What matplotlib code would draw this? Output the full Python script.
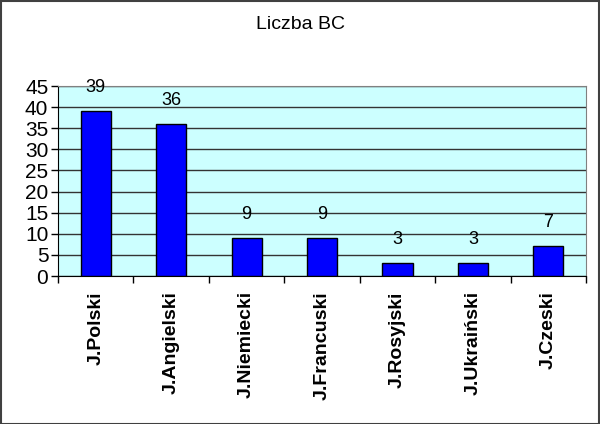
import numpy as np
import matplotlib.pyplot as plt
from matplotlib.patches import Rectangle

categories = ['J.Polski', 'J.Angielski', 'J.Niemiecki', 'J.Francuski',
              'J.Rosyjski', 'J.Ukraiński', 'J.Czeski']
values = [39, 36, 9, 9, 3, 3, 7]
yticks = list(range(0, 50, 5))


def main():
    plt.rcParams['font.family'] = ['Liberation Sans', 'DejaVu Sans']
    fig = plt.figure(figsize=(6, 4.24), dpi=100)
    ax = fig.add_axes([0.0967, 0.349, 0.88, 0.448])
    ax.set_facecolor('#ccffff')

    x = np.arange(len(categories))
    bars = ax.bar(x, values, width=0.4, color='#0000ff', edgecolor='black',
                  linewidth=1, zorder=3)
    for b, v in zip(bars, values):
        ax.annotate(str(v), (b.get_x() + b.get_width() / 2, v),
                    xytext=(0, 11), textcoords='offset points',
                    ha='center', va='bottom', fontsize=13)

    ax.set_xlim(-0.5, len(categories) - 0.5)
    ax.set_ylim(0, 45)
    ax.set_yticks(yticks)
    ax.yaxis.grid(True, color='#333333', linewidth=1, zorder=1)
    ax.set_axisbelow(True)
    ax.tick_params(axis='y', labelsize=15, length=5, direction='out',
                   width=1, pad=2)

    ax.set_xticks(x)
    ax.set_xticklabels(categories, rotation=90, fontsize=14,
                       fontweight='bold', va='top')
    ax.set_xticks(np.arange(-0.5, len(categories)), minor=True)
    ax.tick_params(axis='x', which='major', length=0, pad=11)
    ax.tick_params(axis='x', which='minor', length=5, width=1,
                   direction='out')

    for s in ['top', 'right']:
        ax.spines[s].set_color('#808080')
    for s in ['left', 'bottom']:
        ax.spines[s].set_color('black')

    fig.text(0.5, 0.943, 'Liczba BC', ha='center', va='center', fontsize=14)
    fig.patches.append(Rectangle((0.001, 0.001), 0.997, 0.996,
                                 transform=fig.transFigure, fill=False,
                                 edgecolor='#404040', linewidth=1.5))
    fig.savefig('out.png', dpi=100)


if __name__ == "__main__":
    main()
